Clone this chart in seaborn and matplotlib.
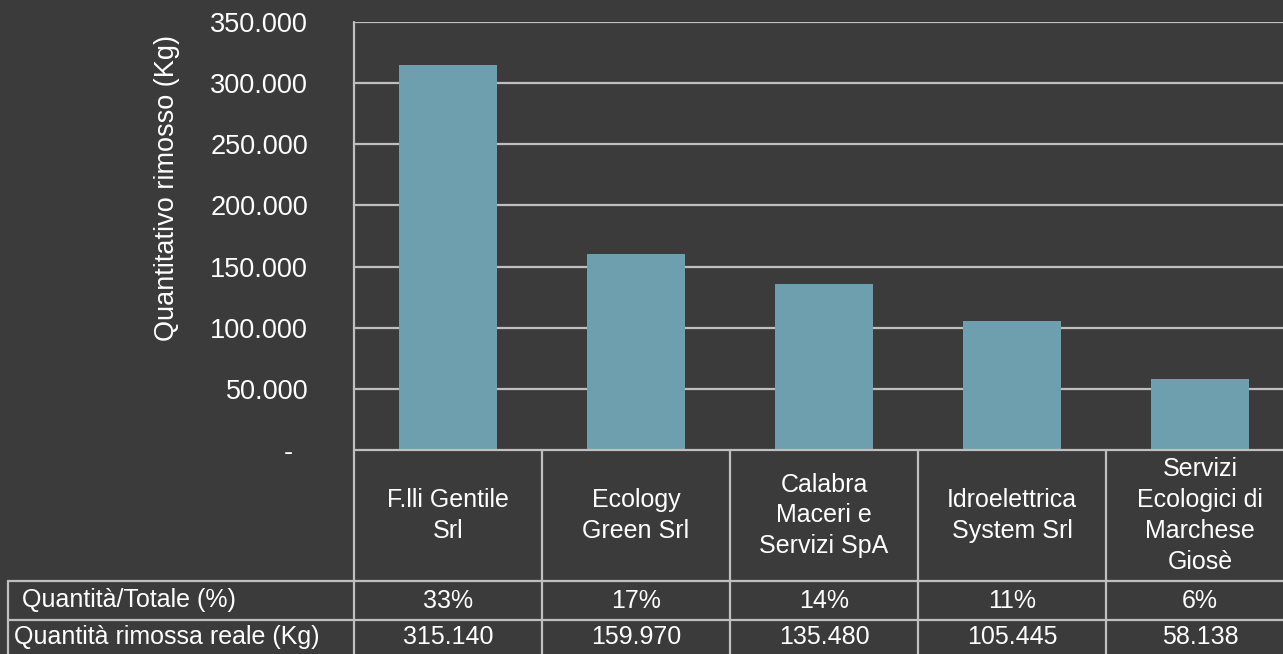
import matplotlib
matplotlib.use("Agg")
import matplotlib.pyplot as plt
import seaborn as sns
import pandas as pd
from matplotlib.ticker import FuncFormatter, MultipleLocator

AZIENDE = [
    "F.lli Gentile\nSrl",
    "Ecology\nGreen Srl",
    "Calabra\nMaceri e\nServizi SpA",
    "Idroelettrica\nSystem Srl",
    "Servizi\nEcologici di\nMarchese\nGiosè",
]
QUANTITA_KG = [315140, 159970, 135480, 105445, 58138]
PERCENTUALI = ["33%", "17%", "14%", "11%", "6%"]
RIGHE_TABELLA = ["Quantità/Totale (%)", "Quantità rimossa reale (Kg)"]
Y_LABEL = "Quantitativo rimosso (Kg)"

BG = "#3b3b3b"
BAR = "#6e9fae"
LINE = "#bfbfbf"
TXT = "#ffffff"

sns.set_theme(style="dark")
plt.rcParams["font.family"] = ["Liberation Sans", "DejaVu Sans"]


def it_fmt(v, pos):
    if v == 0:
        return "-  "
    return f"{int(round(v)):,}".replace(",", ".")


def main():
    df = pd.DataFrame({"azienda": AZIENDE, "kg": QUANTITA_KG})

    W, H = 1283, 654
    fig = plt.figure(figsize=(W / 100, H / 100), dpi=100, facecolor=BG)
    ax = fig.add_axes([354 / W, 204 / H, 929 / W, 428 / H], facecolor=BG)

    col_w = 188  # pixel width of one category
    sns.barplot(data=df, x="azienda", y="kg", color=BAR, width=0.52,
                saturation=1, linewidth=0, edgecolor=BAR, ax=ax, zorder=3)

    ax.set_xlim(-0.5, -0.5 + 929 / col_w)
    ax.set_ylim(0, 350000)
    ax.yaxis.set_major_locator(MultipleLocator(50000))
    ax.yaxis.set_major_formatter(FuncFormatter(it_fmt))
    ax.tick_params(axis="y", length=0, pad=33, labelsize=19.5, labelcolor=TXT)
    ax.set_xticks([])
    ax.set_xlabel("")
    ax.set_ylabel("")
    ax.grid(False)
    for s in ax.spines.values():
        s.set_visible(False)

    # gridlines
    for yv in range(50000, 350001, 50000):
        ax.axhline(yv, color=LINE, lw=1.6, zorder=1)

    fig.text(167 / W, 1 - 188 / H, Y_LABEL, rotation=90, ha="center",
             va="center", color=TXT, fontsize=19.5)

    # table below the chart
    tr = ax.get_xaxis_transform()
    y_head = -131 / 428
    y_row = -170 / 428
    y_end = -204 / 428
    x_box = (8 - 354) / col_w - 0.5
    x_right = ax.get_xlim()[1]
    kw = dict(color=LINE, lw=1.6, transform=tr, clip_on=False, zorder=4)

    ax.plot([-0.5, -0.5], [1, y_end], **kw)
    ax.plot([-0.5, x_right], [0, 0], **kw)
    ax.plot([x_box, x_right], [y_head, y_head], **kw)
    ax.plot([x_box, x_right], [y_row, y_row], **kw)
    ax.plot([x_box, x_box], [y_head, y_end], **kw)
    for i in range(len(AZIENDE) - 1):
        ax.plot([i + 0.5, i + 0.5], [0, y_end], **kw)

    fs = 18
    yc_head = y_head / 2
    yc1 = (y_head + y_row) / 2
    yc2 = (y_row + y_end) / 2
    for i, (name, pct, kg) in enumerate(zip(AZIENDE, PERCENTUALI, QUANTITA_KG)):
        ax.text(i, yc_head, name, ha="center", va="center", color=TXT,
                fontsize=fs, linespacing=1.36, transform=tr, clip_on=False)
        ax.text(i, yc1, pct, ha="center", va="center", color=TXT,
                fontsize=fs, transform=tr, clip_on=False)
        ax.text(i, yc2, it_fmt(kg, None), ha="center", va="center", color=TXT,
                fontsize=fs, transform=tr, clip_on=False)

    ax.text((22 - 354) / col_w - 0.5, yc1, RIGHE_TABELLA[0], ha="left",
            va="center", color=TXT, fontsize=fs, transform=tr, clip_on=False)
    ax.text((14 - 354) / col_w - 0.5, yc2, RIGHE_TABELLA[1], ha="left",
            va="center", color=TXT, fontsize=fs, transform=tr, clip_on=False)

    fig.savefig("out.png", dpi=100, facecolor=BG)


if __name__ == "__main__":
    main()
